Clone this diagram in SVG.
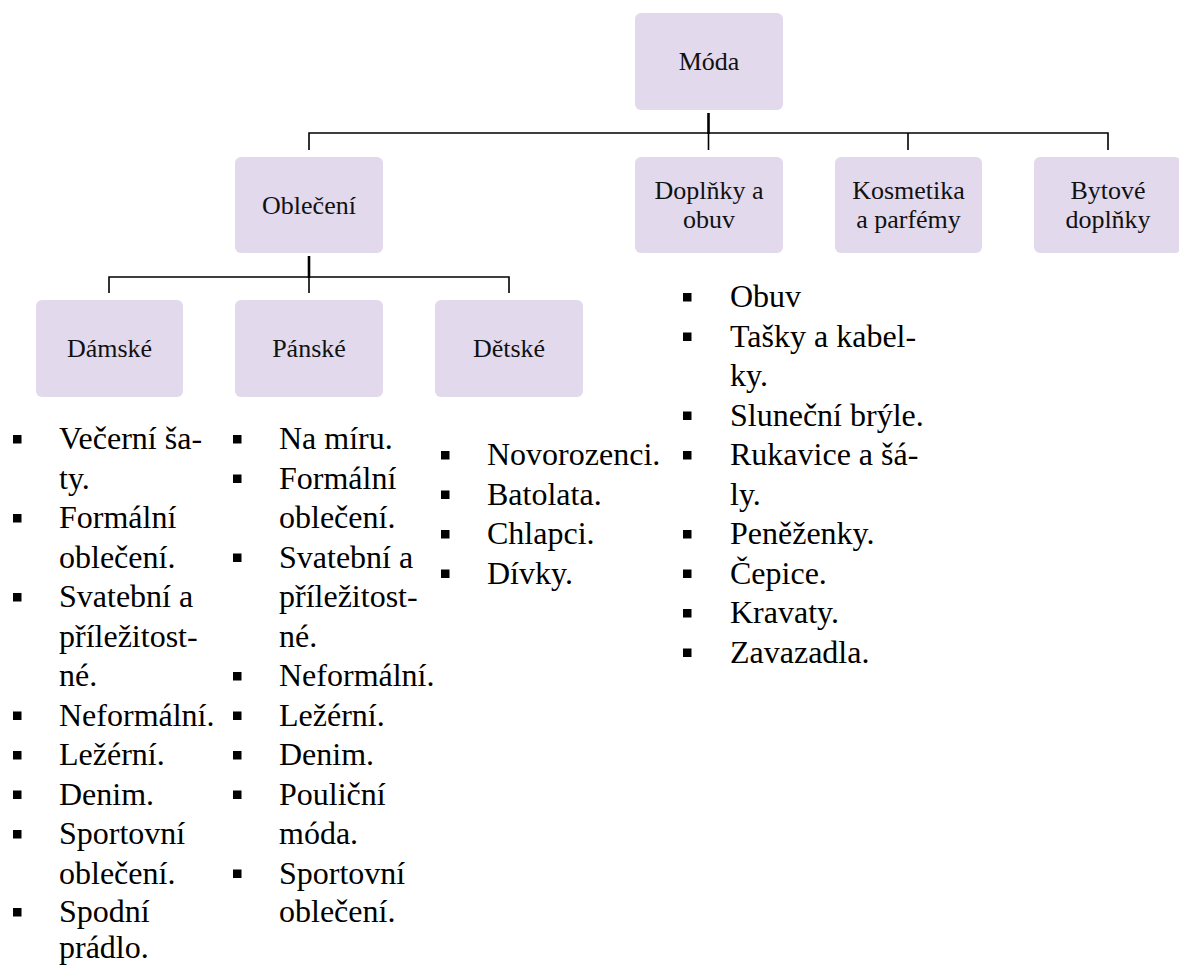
<svg xmlns="http://www.w3.org/2000/svg" width="1179" height="967" viewBox="0 0 1179 967">
<style>
.box{fill:#e2d9ed;}
.bt{font-family:'Liberation Serif','Times New Roman',Tinos,'DejaVu Serif',serif;font-size:26px;fill:#111;text-anchor:middle;}
.lt{font-family:'Liberation Serif','Times New Roman',Tinos,'DejaVu Serif',serif;font-size:32px;fill:#000;}
.ln{stroke:#000;stroke-width:1.6;fill:none;}
.stub{stroke:#000;stroke-width:2.6;fill:none;}
.bul{fill:#000;}
</style>
<defs>
<rect id="b" class="bul" x="0" y="-14" width="8.5" height="8.5"/>
</defs>
<g id="connectors">
<line class="stub" x1="708.5" y1="113" x2="708.5" y2="134"/>
<polyline class="ln" points="309,150 309,133 1108,133 1108,150"/>
<line class="ln" x1="708.5" y1="133" x2="708.5" y2="150"/>
<line class="ln" x1="908" y1="133" x2="908" y2="150"/>
<line class="stub" x1="309" y1="256" x2="309" y2="278"/>
<polyline class="ln" points="109,293 109,277 509,277 509,293"/>
<line class="ln" x1="309" y1="277" x2="309" y2="293"/>
</g>
<g id="moda"><rect class="box" x="635" y="13" width="148" height="97" rx="6"/><text class="bt" x="709" y="70">Móda</text></g>
<g id="obleceni"><rect class="box" x="235" y="157" width="148" height="96" rx="6"/><text class="bt" x="309" y="214">Oblečení</text></g>
<g id="doplnky"><rect class="box" x="635" y="157" width="148" height="96" rx="6"/><text class="bt" x="709" y="199">Doplňky a</text><text class="bt" x="709" y="228">obuv</text></g>
<g id="kosmetika"><rect class="box" x="835" y="157" width="147" height="96" rx="6"/><text class="bt" x="908.5" y="199">Kosmetika</text><text class="bt" x="908.5" y="228">a parfémy</text></g>
<g id="bytove"><rect class="box" x="1034" y="157" width="147" height="96" rx="6"/><text class="bt" x="1108" y="199">Bytové</text><text class="bt" x="1108" y="228">doplňky</text></g>
<g id="damske"><rect class="box" x="36" y="300" width="147" height="97" rx="6"/><text class="bt" x="109.5" y="357">Dámské</text></g>
<g id="panske"><rect class="box" x="235" y="300" width="148" height="97" rx="6"/><text class="bt" x="309" y="357">Pánské</text></g>
<g id="detske"><rect class="box" x="435" y="300" width="148" height="97" rx="6"/><text class="bt" x="509" y="357">Dětské</text></g>
<g id="list-damske">
<text class="lt"><tspan x="59" y="449">Večerní ša-</tspan><tspan x="59" y="488.5">ty.</tspan><tspan x="59" y="528">Formální</tspan><tspan x="59" y="567.5">oblečení.</tspan><tspan x="59" y="607">Svatební a</tspan><tspan x="59" y="646.5">příležitost-</tspan><tspan x="59" y="686">né.</tspan><tspan x="59" y="725.5">Neformální.</tspan><tspan x="59" y="765">Ležérní.</tspan><tspan x="59" y="804.5">Denim.</tspan><tspan x="59" y="844">Sportovní</tspan><tspan x="59" y="883.5">oblečení.</tspan><tspan x="59" y="922">Spodní</tspan><tspan x="59" y="958">prádlo.</tspan></text>
<use href="#b" x="13" y="449"/><use href="#b" x="13" y="528"/><use href="#b" x="13" y="607"/><use href="#b" x="13" y="725.5"/><use href="#b" x="13" y="765"/><use href="#b" x="13" y="804.5"/><use href="#b" x="13" y="844"/><use href="#b" x="13" y="922"/>
</g>
<g id="list-panske">
<text class="lt"><tspan x="279" y="449">Na míru.</tspan><tspan x="279" y="488.5">Formální</tspan><tspan x="279" y="528">oblečení.</tspan><tspan x="279" y="567.5">Svatební a</tspan><tspan x="279" y="607">příležitost-</tspan><tspan x="279" y="646.5">né.</tspan><tspan x="279" y="686">Neformální.</tspan><tspan x="279" y="725.5">Ležérní.</tspan><tspan x="279" y="765">Denim.</tspan><tspan x="279" y="804.5">Pouliční</tspan><tspan x="279" y="844">móda.</tspan><tspan x="279" y="883.5">Sportovní</tspan><tspan x="279" y="922">oblečení.</tspan></text>
<use href="#b" x="233" y="449"/><use href="#b" x="233" y="488.5"/><use href="#b" x="233" y="567.5"/><use href="#b" x="233" y="686"/><use href="#b" x="233" y="725.5"/><use href="#b" x="233" y="765"/><use href="#b" x="233" y="804.5"/><use href="#b" x="233" y="883.5"/>
</g>
<g id="list-detske">
<text class="lt"><tspan x="487" y="465">Novorozenci.</tspan><tspan x="487" y="504.5">Batolata.</tspan><tspan x="487" y="544">Chlapci.</tspan><tspan x="487" y="583.5">Dívky.</tspan></text>
<use href="#b" x="441" y="465"/><use href="#b" x="441" y="504.5"/><use href="#b" x="441" y="544"/><use href="#b" x="441" y="583.5"/>
</g>
<g id="list-doplnky">
<text class="lt"><tspan x="730" y="307">Obuv</tspan><tspan x="730" y="346.5">Tašky a kabel-</tspan><tspan x="730" y="386">ky.</tspan><tspan x="730" y="425.5">Sluneční brýle.</tspan><tspan x="730" y="465">Rukavice a šá-</tspan><tspan x="730" y="504.5">ly.</tspan><tspan x="730" y="544">Peněženky.</tspan><tspan x="730" y="583.5">Čepice.</tspan><tspan x="730" y="623">Kravaty.</tspan><tspan x="730" y="662.5">Zavazadla.</tspan></text>
<use href="#b" x="683" y="307"/><use href="#b" x="683" y="346.5"/><use href="#b" x="683" y="425.5"/><use href="#b" x="683" y="465"/><use href="#b" x="683" y="544"/><use href="#b" x="683" y="583.5"/><use href="#b" x="683" y="623"/><use href="#b" x="683" y="662.5"/>
</g>
</svg>
